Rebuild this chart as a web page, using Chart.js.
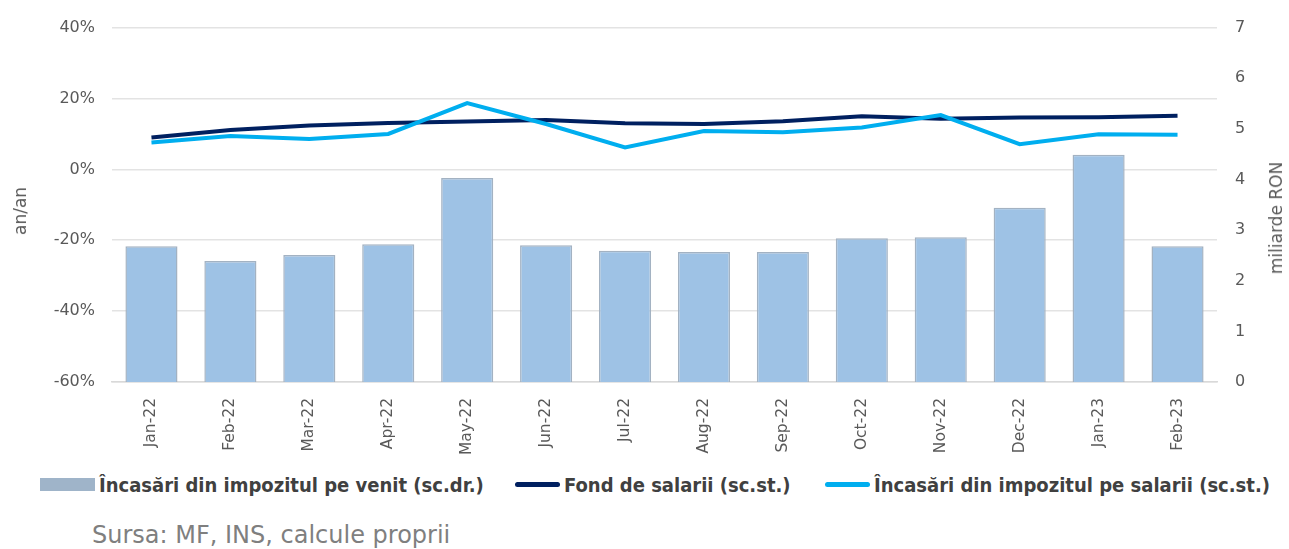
<!DOCTYPE html>
<html>
<head>
<meta charset="utf-8">
<script src="https://cdn.jsdelivr.net/npm/chart.js@4.4.1/dist/chart.umd.min.js"></script>
<style>
  body { margin: 0; background: #fff; width: 1289px; height: 549px; overflow: hidden; position: relative; font-family: "DejaVu Sans", Verdana, sans-serif; }
  #wrap { position: absolute; left: 0; top: 0; width: 1289px; height: 460px; }
  .axis-title { position: absolute; color: #595959; font-size: 17px; white-space: nowrap; transform: translate(-50%, -50%) rotate(-90deg); }
  #legend { position: absolute; top: 472px; left: 0; width: 1289px; height: 28px; font-family: "DejaVu Sans Condensed", "DejaVu Sans", sans-serif; font-weight: bold; font-size: 20px; color: #404040; }
  .item { position: absolute; top: 0; white-space: nowrap; line-height: 26px; }
  .sw { display: inline-block; vertical-align: middle; margin-right: 4px; position: relative; top: -2px; }
  #source { position: absolute; left: 92px; top: 521px; font-size: 24px; color: #7f7f7f; }
</style>
</head>
<body>
<div id="wrap"><canvas id="chart"></canvas></div>
<div class="axis-title" style="left:20px; top:211px;">an/an</div>
<div class="axis-title" style="left:1276px; top:218px;">miliarde RON</div>
<div id="legend"></div>
<div id="source">Sursa: MF, INS, calcule proprii</div>
<script>
const months = ["Jan-22", "Feb-22", "Mar-22", "Apr-22", "May-22", "Jun-22", "Jul-22",
  "Aug-22", "Sep-22", "Oct-22", "Nov-22", "Dec-22", "Jan-23", "Feb-23"];

// incasari din impozitul pe venit, miliarde RON (scala dreapta)
const venitBars = [2.68, 2.39, 2.51, 2.72, 4.03, 2.70, 2.59, 2.57, 2.57, 2.84, 2.86, 3.44, 4.49, 2.68];
// fond de salarii, % an/an (scala stanga)
const fondSalarii = [9.0, 11.1, 12.4, 13.1, 13.5, 13.9, 13.0, 12.8, 13.6, 15.0, 14.3, 14.6, 14.7, 15.1];
// incasari din impozitul pe salarii, % an/an (scala stanga)
const impSalarii = [7.6, 9.4, 8.6, 10.0, 18.7, 12.8, 6.2, 10.8, 10.5, 11.8, 15.3, 7.1, 9.9, 9.8];

const leftTicks = [-60, -40, -20, 0, 20, 40];
const rightTicks = [0, 1, 2, 3, 4, 5, 6, 7];

const legendItems = [
  { label: "Încasări din impozitul pe venit (sc.dr.)", color: "#9fb4c9", type: "box", x: 40 },
  { label: "Fond de salarii (sc.st.)", color: "#002060", type: "line", x: 515 },
  { label: "Încasări din impozitul pe salarii (sc.st.)", color: "#00aeef", type: "line", x: 825 },
];

const tickFont = { family: "DejaVu Sans", size: 16 };

const ctx = document.getElementById("chart").getContext("2d");
const chart = new Chart(ctx, {
  type: "bar",
  data: {
    labels: months,
    datasets: [
      {
        type: "line",
        label: legendItems[1].label,
        data: fondSalarii,
        yAxisID: "y",
        borderColor: "#002060",
        borderWidth: 4,
        pointRadius: 0,
        tension: 0,
        order: 2,
      },
      {
        type: "line",
        label: legendItems[2].label,
        data: impSalarii,
        yAxisID: "y",
        borderColor: "#00aeef",
        borderWidth: 4,
        pointRadius: 0,
        tension: 0,
        order: 1,
      },
      {
        type: "bar",
        label: legendItems[0].label,
        data: venitBars,
        yAxisID: "y1",
        backgroundColor: "#9ec2e5",
        borderColor: "#a3b2c2",
        borderWidth: 1.5,
        barPercentage: 0.66,
        categoryPercentage: 1,
        order: 3,
      },
    ],
  },
  options: {
    responsive: true,
    maintainAspectRatio: false,
    animation: false,
    layout: { padding: { top: 23, left: 0, right: 0, bottom: 0 } },
    plugins: { legend: { display: false }, tooltip: { enabled: false } },
    scales: {
      x: {
        grid: { display: false },
        border: { color: "#d9d9d9", width: 1.5 },
        ticks: { color: "#595959", font: { family: "DejaVu Sans", size: 15.5 }, minRotation: 90, maxRotation: 90, padding: 8, autoSkip: false },
        afterFit: (s) => { s.height = 78; },
      },
      y: {
        position: "left",
        min: -60,
        max: 40,
        afterBuildTicks: (s) => { s.ticks = leftTicks.map((v) => ({ value: v })); },
        grid: { color: "#e3e3e3", lineWidth: 1.5, drawTicks: false },
        border: { display: false },
        ticks: { color: "#595959", font: tickFont, padding: 17, callback: (v) => v + "%" },
        afterFit: (s) => { s.width = 112; },
      },
      y1: {
        position: "right",
        min: 0,
        max: 7,
        afterBuildTicks: (s) => { s.ticks = rightTicks.map((v) => ({ value: v })); },
        grid: { display: false, drawTicks: false },
        border: { display: false },
        ticks: { color: "#595959", font: tickFont, padding: 18 },
        afterFit: (s) => { s.width = 72; },
      },
    },
  },
});

const legend = document.getElementById("legend");
legend.innerHTML = legendItems
  .map((it) => {
    const sw = it.type === "box"
      ? `<span class="sw" style="width:55px;height:13px;background:${it.color}"></span>`
      : `<span class="sw" style="width:45px;height:5px;border-radius:3px;background:${it.color}"></span>`;
    return `<div class="item" style="left:${it.x}px">${sw}${it.label}</div>`;
  })
  .join("");
</script>
</body>
</html>
